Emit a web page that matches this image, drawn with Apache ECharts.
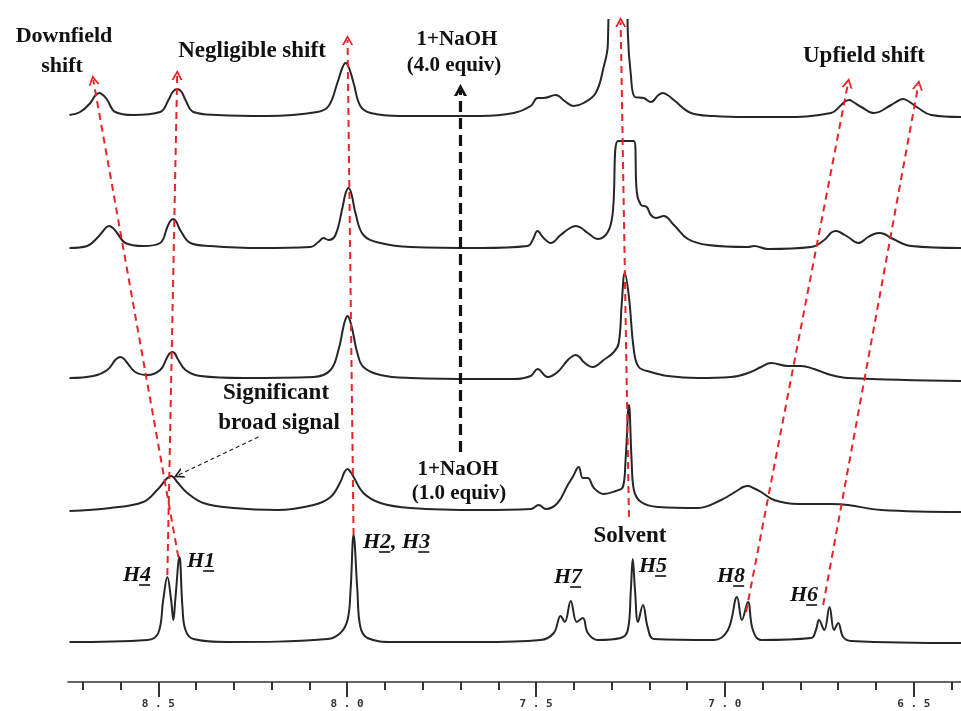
<!DOCTYPE html>
<html><head><meta charset="utf-8">
<script src="https://cdn.jsdelivr.net/npm/echarts@6/dist/echarts.min.js"></script>
<style>html,body{margin:0;padding:0;background:#fff}#c{width:961px;height:711px}</style>
</head><body><div id="c"></div>
<script>
// ---- axis ticks (ppm) ----
const majorTicks = [8.5, 8.0, 7.5, 7.0, 6.5];
const tickLabels = ['8.5', '8.0', '7.5', '7.0', '6.5'];
const minorTicks = [8.7, 8.6, 8.4, 8.3, 8.2, 8.1, 7.9, 7.8, 7.7, 7.6, 7.4, 7.3, 7.2, 7.1, 6.9, 6.8, 6.7, 6.6, 6.4];

// ---- spectra: [ppm, intensity above own baseline] ----
// free 1
const spec1 = [[8.735,0],[8.529,2],[8.500,9],[8.487,42],[8.476,65],[8.466,42],[8.460,22],[8.455,42],[8.444,85],[8.436,35],[8.428,12],[8.407,3],[8.317,0],[8.052,3],[8.018,9],[7.999,22],[7.991,52],[7.983,107],[7.973,52],[7.965,15],[7.946,4],[7.877,0],[7.647,0],[7.488,2],[7.453,9],[7.435,26],[7.424,20],[7.408,41],[7.392,20],[7.376,24],[7.363,9],[7.336,2],[7.276,4],[7.257,12],[7.249,52],[7.244,83],[7.238,52],[7.230,20],[7.217,37],[7.204,14],[7.188,3],[7.029,2],[6.992,12],[6.968,45],[6.955,22],[6.939,40],[6.926,12],[6.904,2],[6.772,4],[6.759,12],[6.751,22],[6.737,12],[6.723,35],[6.711,12],[6.700,19],[6.687,5],[6.666,1],[6.375,-1]];
// 1 + NaOH 1.0 equiv
const spec2 = [[8.735,-1],[8.627,2],[8.540,8],[8.503,20],[8.481,30],[8.474,32.5],[8.466,34],[8.458,32],[8.450,28],[8.423,17],[8.381,7],[8.301,2],[8.185,0],[8.089,5],[8.044,13],[8.018,28],[8.007,38],[7.999,41],[7.991,38],[7.983,33],[7.957,17],[7.912,7],[7.832,2],[7.647,0],[7.514,1],[7.493,5],[7.474,1],[7.443,7],[7.416,25],[7.403,33],[7.387,43],[7.376,32],[7.363,32],[7.347,22],[7.321,16],[7.289,19],[7.270,23],[7.263,50],[7.254,105],[7.247,50],[7.241,20],[7.222,8],[7.177,3],[7.071,2],[7.010,10],[6.965,20],[6.952,23],[6.939,24],[6.925,22],[6.904,18],[6.870,10],[6.806,6],[6.719,6],[6.674,5],[6.586,0],[6.375,-2]];
// 1 + NaOH 2.0 equiv
const spec3 = [[8.735,0],[8.672,2],[8.635,8],[8.614,18],[8.609,19.5],[8.601,21],[8.592,19.5],[8.582,15],[8.561,6],[8.529,3],[8.495,8],[8.476,21],[8.470,24.5],[8.463,26],[8.456,24.5],[8.450,20],[8.428,8],[8.389,2],[8.275,0],[8.089,1],[8.044,8],[8.023,28],[8.010,51],[8.005,58],[7.999,62],[7.993,58],[7.986,48],[7.973,25],[7.957,11],[7.912,3],[7.832,0],[7.647,-1],[7.559,-1],[7.514,2],[7.496,9],[7.469,1],[7.443,6],[7.416,18],[7.405,21.5],[7.395,23],[7.385,21],[7.374,16],[7.350,11],[7.321,18],[7.294,26],[7.281,35],[7.273,75],[7.265,105],[7.254,81],[7.241,28],[7.228,11],[7.196,6],[7.151,2],[7.071,0],[6.984,1],[6.939,5],[6.904,11],[6.878,15],[6.833,12],[6.798,12],[6.764,9],[6.719,3],[6.674,0],[6.375,-3]];
// 1 + NaOH 3.0 equiv
const spec4 = [[8.735,0],[8.688,2],[8.662,10],[8.646,17],[8.638,20.5],[8.630,22],[8.620,20],[8.609,15],[8.587,5],[8.540,2],[8.495,5],[8.476,21],[8.468,27],[8.460,29],[8.452,26],[8.442,18],[8.415,5],[8.362,2],[8.230,0],[8.097,1],[8.076,6],[8.063,10],[8.049,8],[8.031,13],[8.012,41],[8.004,55],[7.996,60],[7.988,53],[7.978,35],[7.957,13],[7.912,5],[7.832,1],[7.647,0],[7.522,2],[7.509,8],[7.496,17],[7.480,10],[7.461,5],[7.435,13],[7.410,20],[7.395,22],[7.380,20],[7.363,15],[7.336,9],[7.310,16],[7.297,35],[7.283,107],[7.241,107],[7.233,55],[7.222,43],[7.207,41],[7.196,33],[7.183,30],[7.162,32],[7.135,23],[7.098,9],[7.045,3],[6.939,1],[6.923,2],[6.886,-1],[6.772,1],[6.737,8],[6.718,15.5],[6.706,17],[6.694,15.5],[6.674,11],[6.647,5],[6.621,11],[6.605,14],[6.592,15],[6.578,14],[6.560,10],[6.507,2],[6.375,0]];
// 1 + NaOH 4.0 equiv
const spec5 = [[8.735,0],[8.707,3],[8.680,12],[8.667,19.5],[8.656,22],[8.645,19.5],[8.635,15],[8.614,3],[8.566,0],[8.495,3],[8.473,15],[8.462,23],[8.450,26],[8.438,23],[8.428,15],[8.407,3],[8.344,0],[8.211,-1],[8.079,3],[8.049,9],[8.026,32],[8.013,47],[8.004,52],[7.995,47],[7.983,32],[7.965,9],[7.938,2],[7.859,-1],[7.647,-1],[7.559,2],[7.514,9],[7.496,17],[7.480,17],[7.448,20],[7.421,13],[7.400,9],[7.374,12],[7.342,22],[7.321,48],[7.310,70],[7.305,200],[7.262,200],[7.257,82],[7.249,40],[7.238,18],[7.215,17],[7.196,13],[7.176,20],[7.164,22],[7.150,19.5],[7.135,15],[7.090,2],[7.029,-1],[6.939,-2],[6.851,-2],[6.719,2],[6.692,10],[6.682,13.5],[6.671,15],[6.660,13],[6.639,8],[6.605,2],[6.560,10],[6.540,14.5],[6.528,16],[6.515,14],[6.488,7],[6.454,0],[6.375,-2]];

const spectra = [spec1, spec2, spec3, spec4, spec5];

// ---- annotation arrows (ppm, plot value) ----
const redArrows = [
  [[8.447,125],[8.672,602]],
  [[8.476,107],[8.450,607]],
  [[7.983,147],[7.999,642]],
  [[7.254,165],[7.276,660]],
  [[6.944,70],[6.674,599]],
  [[6.740,77],[6.488,597]]
];
const titrationArrow = [[7.700,230],[7.700,592]];
const broadArrow = [[8.235,245],[8.447,207]];

// layout
const baseGap = [40, 172, 304, 434, 567];

const chevron = 'path://M0,10 L5,0 L10,10 L8.2,10 L5,3.6 L1.8,10 Z';
const chevronBold = 'path://M0,10 L5,0 L10,10 L7.6,10 L5,4.4 L2.4,10 Z';

function arrowItem(pair, color, width, dash, sym, size) {
  return [
    {coord: pair[0], symbol: 'none', lineStyle: {color: color, width: width, type: dash}},
    {coord: pair[1], symbol: sym, symbolSize: size}
  ];
}
const markData = redArrows.map(p => arrowItem(p, '#e8242a', 2, [7, 5], chevron, [11, 10]));
markData.push(arrowItem(titrationArrow, '#111', 3.2, [11, 6], chevronBold, [13, 12]));
markData.push(arrowItem(broadArrow, '#222', 1.3, [4, 3], chevron, [11, 10]));

const series = spectra.map((s, i) => ({
  type: 'line',
  xAxisIndex: 0,
  data: s.map(p => [p[0], p[1] + baseGap[i]]),
  showSymbol: false,
  smooth: 0.4,
  clip: i !== 0,
  lineStyle: {color: '#262626', width: 2},
  z: 2
}));
series[0].markLine = {
  silent: true,
  animation: false,
  label: {show: false},
  symbol: ['none', 'none'],
  data: markData,
  z: 5
};

// ---- text annotations ----
const serif = '"Liberation Serif", "DejaVu Serif", serif';
const texts = [
  ['Downfield', 64, 36, 22], ['shift', 62, 66, 22], ['Negligible shift', 252, 51, 23],
  ['1+NaOH', 457, 40, 21], ['(4.0 equiv)', 454, 66, 21], ['Upfield shift', 864, 56, 23],
  ['Significant', 276, 393, 23], ['broad signal', 279, 423, 23],
  ['1+NaOH', 458, 470, 21], ['(1.0 equiv)', 459, 494, 21], ['Solvent', 630, 536, 23]
];
const graphics = texts.map(t => ({
  type: 'text', x: t[1], y: t[2], z: 10,
  style: {text: t[0], font: 'bold ' + t[3] + 'px ' + serif, fill: '#111', textAlign: 'center', textVerticalAlign: 'middle'}
}));

const hLabels = [
  [['H', '4'], 123, 582], [['H', '1'], 187, 568], [['H', '2', ', H', '3'], 363, 549],
  [['H', '7'], 554, 584], [['H', '5'], 639, 573], [['H', '8'], 717, 583], [['H', '6'], 790, 602]
];
const hFont = 'italic bold 22px ' + serif;
const mctx = document.createElement('canvas').getContext('2d');
mctx.font = hFont;
hLabels.forEach(lab => {
  let x = lab[1];
  const base = lab[2];
  lab[0].forEach((part, k) => {
    const w = mctx.measureText(part).width;
    graphics.push({type: 'text', x: x, y: base - 7, z: 10,
      style: {text: part, font: hFont, fill: '#111', textAlign: 'left', textVerticalAlign: 'middle'}});
    if (k % 2 === 1) {
      graphics.push({type: 'line', z: 10, shape: {x1: x - 1, y1: base + 3, x2: x + w - 1, y2: base + 3},
        style: {stroke: '#111', lineWidth: 1.6}});
    }
    x += w;
  });
});

const chart = echarts.init(document.getElementById('c'), null, {renderer: 'canvas'});
chart.setOption({
  animation: false,
  backgroundColor: '#fff',
  grid: {left: 68, right: 0, top: 20, bottom: 29, containLabel: false},
  xAxis: [
    {type: 'value', min: 6.375, max: 8.739, inverse: true, position: 'bottom',
     axisLine: {show: true, onZero: false, lineStyle: {color: '#333', width: 1.5}},
     axisTick: {show: true, length: 8, customValues: minorTicks, lineStyle: {color: '#333', width: 2}},
     axisLabel: {show: false}, splitLine: {show: false}},
    {type: 'value', min: 6.375, max: 8.739, inverse: true, position: 'bottom',
     axisLine: {show: false, onZero: false},
     axisTick: {show: true, length: 15, customValues: majorTicks, lineStyle: {color: '#333', width: 2}},
     axisLabel: {show: true, customValues: majorTicks, margin: 17,
       fontFamily: '"DejaVu Sans Mono", monospace', fontSize: 11, fontWeight: 'bold', color: '#333',
       formatter: v => {
         const i = majorTicks.findIndex(m => Math.abs(m - v) < 1e-6);
         return i < 0 ? '' : tickLabels[i].split('').join(' ');
       }},
     splitLine: {show: false}}
  ],
  yAxis: {type: 'value', min: 0, max: 662, show: false},
  series: series,
  graphic: graphics
});
</script></body></html>
